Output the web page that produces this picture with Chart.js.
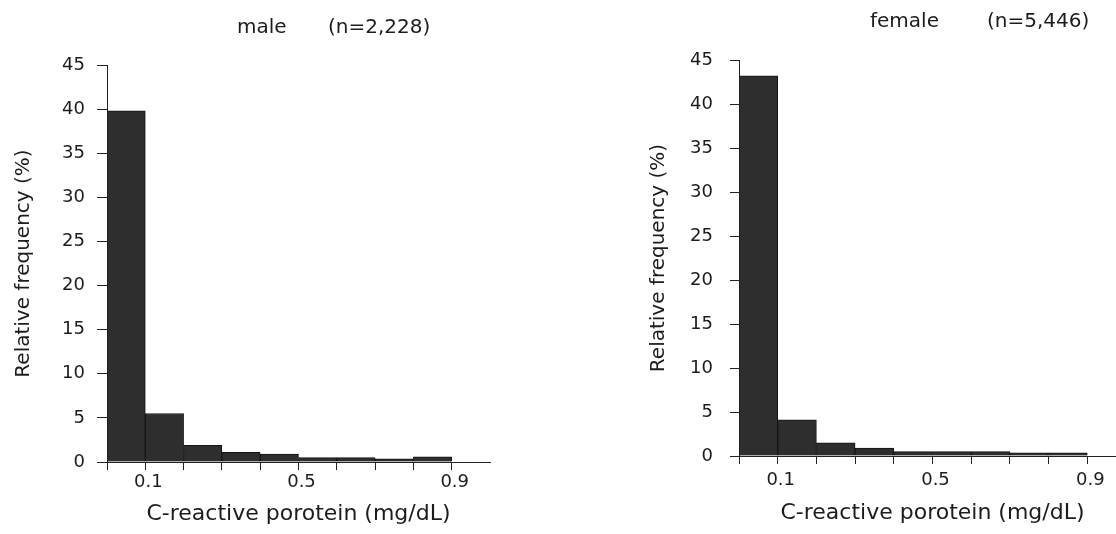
<!DOCTYPE html>
<html>
<head>
<meta charset="utf-8">
<script src="https://cdn.jsdelivr.net/npm/chart.js@4.4.1/dist/chart.umd.min.js"></script>
<style>
  html, body { margin: 0; padding: 0; background: #fff; overflow: hidden; width: 1116px; height: 534px; }
  canvas { position: absolute; top: 0; }
  #maleChart { left: 0; }
  #femaleChart { left: 640px; }
</style>
</head>
<body>
<canvas id="maleChart" width="540" height="534"></canvas>
<canvas id="femaleChart" width="500" height="534"></canvas>
<script>
// bins of C-reactive protein, 0.1 mg/dL wide, given by their mid points
var binMids = [0.05, 0.15, 0.25, 0.35, 0.45, 0.55, 0.65, 0.75, 0.85];
var maleFreq = [39.8, 5.5, 1.9, 1.1, 0.9, 0.5, 0.5, 0.35, 0.6];
var femaleFreq = [43.2, 4.1, 1.5, 0.9, 0.5, 0.5, 0.5, 0.35, 0.35];
var xTickLabels = ['0.1', '0.5', '0.9'];
var yTicks = { min: 0, max: 45, step: 5 };

var FONT = "'DejaVu Sans', sans-serif";
var INK = '#1c1c1c';

// small title drawn above each panel ("male      (n=2,228)")
var panelTitle = {
    id: 'panelTitle',
    afterDraw: function(chart, args, opts) {
        var ctx = chart.ctx;
        ctx.save();
        ctx.font = '20px ' + FONT;
        ctx.fillStyle = INK;
        ctx.textBaseline = 'middle';
        ctx.textAlign = 'left';
        for (var i = 0; i < opts.parts.length; i++) {
            ctx.fillText(opts.parts[i], opts.x[i], opts.y);
        }
        ctx.restore();
    }
};

function makeChart(id, values, cfg) {
    var ctx = document.getElementById(id).getContext('2d');
    return new Chart(ctx, {
        type: 'bar',
        data: {
            datasets: [{
                data: binMids.map(function(m, i) { return { x: m, y: values[i] }; }),
                backgroundColor: '#2e2e2e',
                borderColor: '#151515',
                borderWidth: 1,
                barPercentage: 1,
                categoryPercentage: 1
            }]
        },
        plugins: [panelTitle],
        options: {
            responsive: false,
            animation: false,
            layout: { padding: cfg.padding },
            plugins: {
                legend: { display: false },
                tooltip: { enabled: false },
                title: { display: false },
                panelTitle: cfg.title
            },
            scales: {
                x: {
                    type: 'linear',
                    min: 0,
                    max: 1.0,
                    offset: false,
                    afterBuildTicks: function(scale) {
                        scale.ticks = scale.ticks.filter(function(t) { return t.value < 0.95; });
                    },
                    afterFit: function(scale) { scale.height = cfg.xHeight; },
                    ticks: {
                        stepSize: 0.1,
                        autoSkip: false,
                        maxRotation: 0,
                        padding: cfg.xPad,
                        labelOffset: 3,
                        color: INK,
                        font: { family: FONT, size: 18 },
                        callback: function(v) {
                            var s = Number(v).toFixed(1);
                            return xTickLabels.indexOf(s) >= 0 ? s : '';
                        }
                    },
                    grid: { offset: false, drawOnChartArea: false, tickLength: 8, color: '#222' },
                    border: { display: true, color: '#222', width: 1 },
                    title: {
                        display: true,
                        text: 'C-reactive porotein (mg/dL)',
                        color: INK,
                        font: { family: FONT, size: 22 },
                        padding: { top: 4, bottom: 4 }
                    }
                },
                y: {
                    min: yTicks.min,
                    max: yTicks.max,
                    afterFit: function(scale) { scale.width = cfg.yWidth; },
                    ticks: {
                        stepSize: yTicks.step,
                        padding: cfg.yPad,
                        color: INK,
                        font: { family: FONT, size: 18 }
                    },
                    grid: { drawOnChartArea: false, tickLength: cfg.yTick, color: '#222' },
                    border: { display: true, color: '#222', width: 1 },
                    title: {
                        display: true,
                        text: 'Relative frequency (%)',
                        color: INK,
                        font: { family: FONT, size: 20 },
                        padding: { top: 4, bottom: 4 }
                    }
                }
            }
        }
    });
}

makeChart('maleChart', maleFreq, {
    padding: { top: 65, left: 8, right: 50, bottom: 3 },
    xHeight: 69, xPad: 2,
    yWidth: 99, yPad: 12, yTick: 10,
    title: { parts: ['male', '(n=2,228)'], x: [237, 328], y: 28 }
});

makeChart('femaleChart', femaleFreq, {
    padding: { top: 60, left: 3, right: 14, bottom: 4 },
    xHeight: 74, xPad: 6,
    yWidth: 96, yPad: 17, yTick: 9,
    title: { parts: ['female', '(n=5,446)'], x: [230, 347], y: 22 }
});
</script>
</body>
</html>
